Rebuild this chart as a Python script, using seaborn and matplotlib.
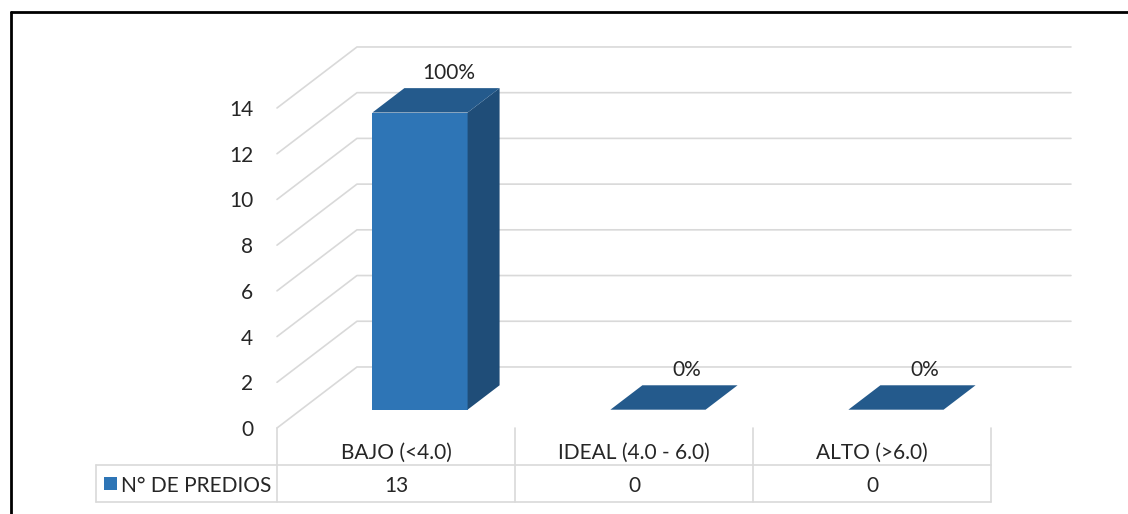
import matplotlib
matplotlib.use("Agg")
import matplotlib.pyplot as plt
import seaborn as sns
import numpy as np
from matplotlib.patches import Polygon, Rectangle
from matplotlib.lines import Line2D
from matplotlib.transforms import Affine2D

# Data
categories = ["BAJO (<4.0)", "IDEAL (4.0 - 6.0)", "ALTO (>6.0)"]
n_predios = [13, 0, 0]
series_name = "N° DE PREDIOS"
y_ticks = [0, 2, 4, 6, 8, 10, 12, 14]

# colours
FRONT = "#2E75B6"
SIDE = "#1F4D78"
TOP = "#245A8C"
GRID = "#D9D9D9"

sns.set_style("white")
plt.rcParams["font.family"] = ["Lato", "DejaVu Sans"]
plt.rcParams["font.size"] = 15

fig = plt.figure(figsize=(11.28, 5.14), dpi=100)
ax = fig.add_axes([277 / 1128, 86 / 514, 714 / 1128, 320 / 514])
ax.set_facecolor("none")

# oblique projection of the depth axis (data units) and bar placement in depth
DX, DY = 0.336, 2.67
FB, BD = 0.3, 0.4

sns.barplot(x=categories, y=n_predios, color=FRONT, saturation=1, width=0.4,
            linewidth=0, ax=ax, zorder=3)
ax.set_xlim(-0.5, 2.5)
ax.set_ylim(0, 14)
ax.set_yticks(y_ticks)
ax.grid(False)
sns.despine(ax=ax, left=True, bottom=True)
ax.tick_params(axis="both", length=0)
ax.tick_params(axis="y", pad=17)
ax.tick_params(axis="x", pad=10.5)
ax.set_xlabel("")
ax.set_ylabel("")

# back wall and side wall gridlines
for v in y_ticks:
    ax.plot([-0.5, -0.5 + DX, 2.5 + DX], [v, v + DY, v + DY], color=GRID,
            lw=1.2, clip_on=False, zorder=1)

# turn the flat bars into 3D columns
shift = Affine2D().translate(FB * DX, FB * DY) + ax.transData
total = sum(n_predios)
for p, v in zip(ax.patches, n_predios):
    p.set_transform(shift)
    p.set_clip_on(False)
    x0, w, h = p.get_x(), p.get_width(), p.get_height()
    top = Polygon([(x0, h), (x0 + w, h), (x0 + w + BD * DX, h + BD * DY),
                   (x0 + BD * DX, h + BD * DY)], closed=True, facecolor=TOP,
                  lw=0, transform=shift, clip_on=False, zorder=3)
    side = Polygon([(x0 + w, 0), (x0 + w + BD * DX, BD * DY),
                    (x0 + w + BD * DX, h + BD * DY), (x0 + w, h)], closed=True,
                   facecolor=SIDE, lw=0, transform=shift, clip_on=False, zorder=3)
    ax.add_patch(side)
    ax.add_patch(top)
    ax.annotate(f"{100 * v / total:.0f}%",
                xy=(x0 + w / 2 + (FB + BD / 2) * DX, h + (FB + BD / 2) * DY),
                xytext=(9, 20), textcoords="offset points", ha="center",
                va="center", fontsize=15, zorder=4, annotation_clip=False)

# data table under the chart
rh = 1.62
xl = -0.5 - 181 / 238
tbl = dict(color=GRID, lw=1.2, clip_on=False, zorder=1)
for xv in [-0.5, 0.5, 1.5, 2.5]:
    ax.plot([xv, xv], [0, -2 * rh], **tbl)
ax.plot([xl, xl], [-rh, -2 * rh], **tbl)
for yv in [-rh, -2 * rh]:
    ax.plot([xl, 2.5], [yv, yv], **tbl)
row_y = -1.5 * rh - 0.12
for i, v in enumerate(n_predios):
    ax.text(i, row_y, str(v), ha="center", va="center", fontsize=15,
            clip_on=False)
ax.add_patch(Rectangle((xl + 8 / 238, -1.5 * rh - 0.285), 13 / 238, 0.57,
                       facecolor=FRONT, lw=0, clip_on=False))
ax.text(xl + 25 / 238, row_y, series_name, ha="left", va="center",
        fontsize=15, clip_on=False)

# chart frame (only left and top edges are in view)
fig.add_artist(Line2D([11 / 1128, 11 / 1128], [0, 1 - 12 / 514], color="black",
                      lw=2, transform=fig.transFigure))
fig.add_artist(Line2D([11 / 1128, 1], [1 - 12 / 514, 1 - 12 / 514], color="black",
                      lw=2, transform=fig.transFigure))

fig.savefig("out.png", dpi=100)
